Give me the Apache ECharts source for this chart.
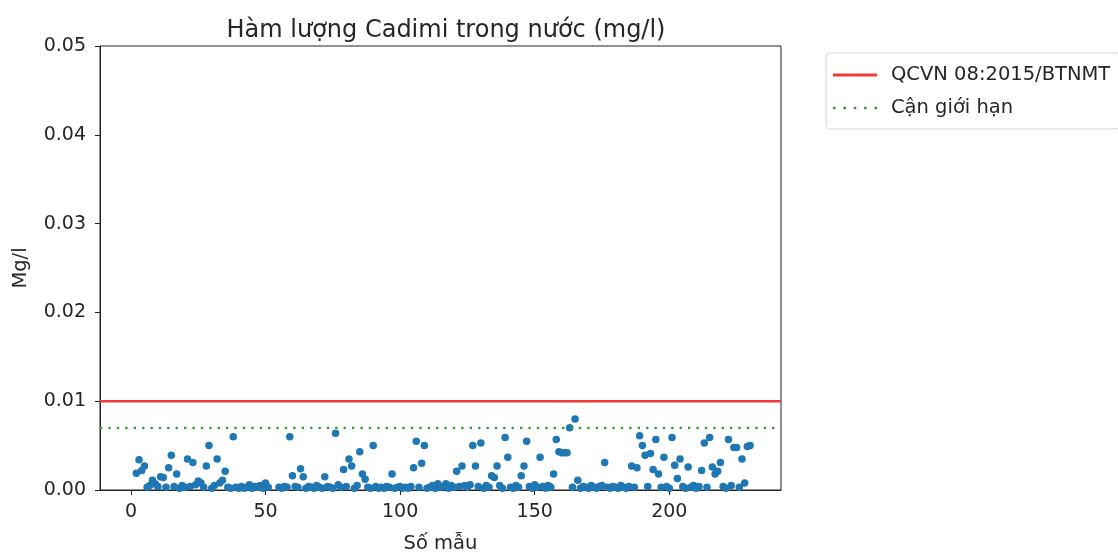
<!DOCTYPE html>
<html><head><meta charset="utf-8">
<script src="https://cdn.jsdelivr.net/npm/echarts@6/dist/echarts.min.js"></script>
<style>html,body{margin:0;padding:0;background:#fff}#c{width:1118px;height:553px}</style>
</head><body><div id="c"></div>
<script>
const title = 'Hàm lượng Cadimi trong nước (mg/l)';
const xName = 'Số mẫu';
const yName = 'Mg/l';
const xTicks = [0, 50, 100, 150, 200];
const xMin = -11.5, xMax = 241.5;
const limitName = 'QCVN 08:2015/BTNMT';
const limitValue = 0.01;
const lowerName = 'Cận giới hạn';
const lowerValue = 0.007;
const cadmium = [
 null,null,0.0019,0.0034,0.0022,0.0027,0.0003,0.0005,0.0011,0.0007,
 0.0004,0.0015,0.0014,0.0003,0.0025,0.0039,0.0004,0.0018,0.0002,0.0005,
 0.0003,0.0035,0.0004,0.0031,0.0006,0.0010,0.0008,0.0003,0.0027,0.0050,
 0.0002,0.0005,0.0035,0.0008,0.0011,0.0021,0.0003,0.0002,0.0060,0.0003,
 0.0002,0.0004,0.0002,0.0003,0.0006,0.0002,0.0004,0.0003,0.0005,0.0002,
 0.0008,0.0003,null,null,null,0.0003,0.0002,0.0004,0.0003,0.0060,
 0.0016,0.0004,0.0003,0.0024,0.0015,0.0002,0.0004,0.0003,0.0002,0.0005,
 0.0003,0.0002,0.0015,0.0004,0.0003,0.0002,0.0064,0.0006,0.0003,0.0023,
 0.0004,0.0035,0.0027,0.0002,0.0005,0.0043,0.0018,0.0012,0.0003,0.0002,
 0.0050,0.0004,0.0002,0.0003,0.0002,0.0004,0.0003,0.0018,0.0002,0.0003,
 0.0004,0.0002,0.0003,0.0002,0.0004,0.0025,0.0055,0.0003,0.0030,0.0050,
 0.0002,0.0003,0.0005,0.0002,0.0007,0.0003,0.0004,0.0007,0.0002,0.0005,
 0.0003,0.0021,0.0004,0.0027,0.0005,0.0003,0.0006,0.0050,0.0027,0.0004,
 0.0053,0.0002,0.0005,0.0003,0.0016,0.0014,0.0027,0.0005,0.0002,0.0059,
 0.0037,0.0003,0.0002,0.0005,0.0003,0.0016,0.0027,0.0055,0.0004,0.0002,
 0.0006,0.0003,0.0037,0.0004,0.0002,0.0005,0.0003,0.0018,0.0057,0.0043,
 0.0042,0.0042,0.0042,0.0070,0.0003,0.0080,0.0011,0.0002,0.0004,0.0003,
 0.0002,0.0005,0.0003,0.0002,0.0004,0.0005,0.0031,0.0003,0.0002,0.0004,
 0.0003,0.0002,0.0005,0.0003,0.0002,0.0004,0.0027,0.0003,0.0025,0.0061,
 0.0050,0.0039,0.0004,0.0041,0.0023,0.0057,0.0018,0.0003,0.0037,0.0004,
 0.0002,0.0059,0.0028,0.0013,0.0035,0.0004,0.0002,0.0026,0.0003,0.0005,
 0.0002,0.0004,0.0022,0.0053,0.0003,0.0059,0.0026,0.0018,0.0021,0.0031,
 0.0004,0.0002,0.0057,0.0005,0.0048,0.0048,0.0003,0.0035,0.0008,0.0049,
 0.0050
];
const scatterData = cadmium.map((v, i) => [i, v]).filter(d => d[1] !== null);
const limitLine = [[xMin, limitValue], [xMax, limitValue]];
const lowerLine = [[xMin, lowerValue], [xMax, lowerValue]];
const FONT = 'DejaVu Sans';
const RED = '#f23a3a', GREEN = '#2ca02c', TXT = '#262626';
const chart = echarts.init(document.getElementById('c'), null, {renderer: 'canvas'});
chart.setOption({
  animation: false,
  backgroundColor: '#fff',
  textStyle: {fontFamily: FONT},
  title: {
    text: title, left: 441, top: 14, textAlign: 'center',
    textStyle: {fontFamily: FONT, fontSize: 24, fontWeight: 'normal', color: TXT}
  },
  legend: {
    orient: 'vertical', left: 826, top: 53,
    data: [
      {name: limitName, icon: 'path://M0,0H44V3H0Z'},
      {name: lowerName, icon: 'path://M0,0h2.6v2.6h-2.6z M10.35,0h2.6v2.6h-2.6z M20.7,0h2.6v2.6h-2.6z M31.05,0h2.6v2.6h-2.6z M41.4,0h2.6v2.6h-2.6z'}
    ],
    itemWidth: 44, itemHeight: 3, itemGap: 13,
    padding: [12, 10, 11, 7],
    borderColor: '#d6d6d6', borderWidth: 1, borderRadius: 4,
    itemStyle: {borderWidth: 0},
    lineStyle: {width: 0},
    textStyle: {fontFamily: FONT, fontSize: 19.5, color: TXT, padding: [0, 0, 0, 9]}
  },
  grid: {left: 100, right: 337, top: 46, bottom: 63, containLabel: false, outerBoundsMode: 'none',
    show: true, borderColor: '#222', borderWidth: 1, backgroundColor: '#fff'},
  xAxis: {
    type: 'value', min: xMin, max: xMax,
    name: xName, nameLocation: 'middle', nameGap: 44,
    nameTextStyle: {fontFamily: FONT, fontSize: 19.5, color: TXT},
    axisLine: {onZero: false, lineStyle: {color: '#222'}},
    axisTick: {show: true, length: 5, customValues: xTicks, lineStyle: {color: '#222'}},
    axisLabel: {customValues: xTicks, fontFamily: FONT, fontSize: 19, color: TXT, margin: 13},
    splitLine: {show: false}
  },
  yAxis: {
    type: 'value', min: 0, max: 0.05, interval: 0.01,
    name: yName, nameLocation: 'middle', nameGap: 69, nameRotate: 90,
    nameTextStyle: {fontFamily: FONT, fontSize: 19.5, color: TXT},
    axisLine: {show: true, onZero: false, lineStyle: {color: '#222'}},
    axisTick: {show: true, length: 5, lineStyle: {color: '#222'}},
    axisLabel: {fontFamily: FONT, fontSize: 19, color: TXT, margin: 14, formatter: v => v.toFixed(2)},
    splitLine: {show: false}
  },
  series: [
    {
      name: limitName, type: 'line', data: limitLine, symbol: 'none', silent: true,
      lineStyle: {color: RED, width: 2.6},
      itemStyle: {color: RED}, z: 3
    },
    {
      name: lowerName, type: 'line', data: lowerLine, symbol: 'none', silent: true,
      lineStyle: {color: GREEN, width: 2.4, type: [2.4, 6]},
      itemStyle: {color: GREEN}, z: 3
    },
    {
      name: 'Cadimi', type: 'scatter', data: scatterData,
      symbolSize: 7.5, itemStyle: {color: '#1f77b4', opacity: 1}, z: 2
    }
  ]
});
</script></body></html>
